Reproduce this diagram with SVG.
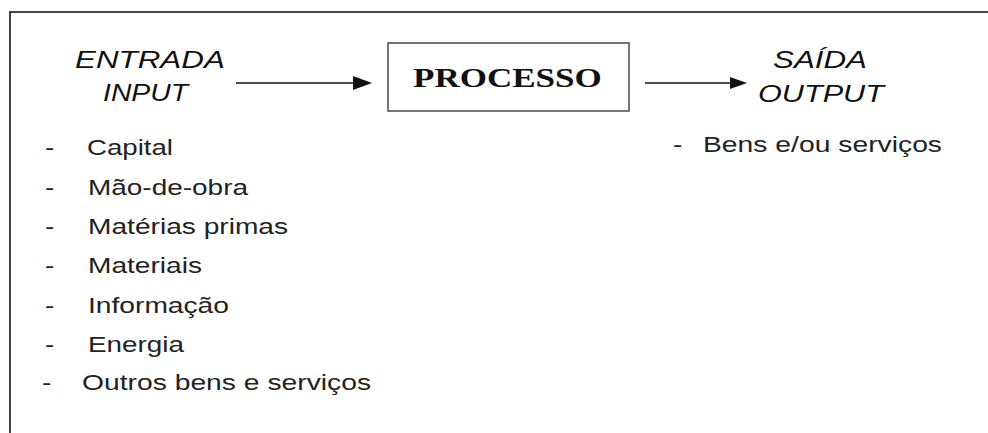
<svg xmlns="http://www.w3.org/2000/svg" width="988" height="433" viewBox="0 0 988 433">
<style>
.frame{stroke:#444;stroke-width:2;fill:none}
.lbl{font-family:"Liberation Sans",Arial,sans-serif;font-size:23px;font-style:italic;fill:#111}
.proc{font-family:"Liberation Serif","Times New Roman",serif;font-size:28px;font-weight:bold;fill:#111}
.item{font-family:"Liberation Sans",Arial,sans-serif;font-size:22px;fill:#222}
.box{fill:#fff;stroke:#555;stroke-width:1.6}
.conn{stroke:#111;stroke-width:1.6;fill:none}
.head{fill:#111}
</style>
<rect width="988" height="433" fill="#fff"/>
<path class="frame" d="M10,433 V12 H988"/>
<g id="entrada">
<text class="lbl" transform="translate(75,68) scale(1.35,1)" textLength="111" lengthAdjust="spacingAndGlyphs">ENTRADA</text>
<text class="lbl" transform="translate(103,101) scale(1.35,1)" textLength="63" lengthAdjust="spacingAndGlyphs">INPUT</text>
</g>
<g id="processo">
<rect class="box" x="388" y="43" width="241" height="68"/>
<text class="proc" transform="translate(413,87) scale(1.25,1)" textLength="151" lengthAdjust="spacingAndGlyphs">PROCESSO</text>
</g>
<g id="saida">
<text class="lbl" transform="translate(773,68) scale(1.35,1)" textLength="69.6" lengthAdjust="spacingAndGlyphs">SAÍDA</text>
<text class="lbl" transform="translate(758,102) scale(1.35,1)" textLength="93.3" lengthAdjust="spacingAndGlyphs">OUTPUT</text>
</g>
<g id="connectors">
<line class="conn" x1="236" y1="83" x2="355" y2="83"/>
<polygon class="head" points="353,76 372,83 353,90"/>
<line class="conn" x1="645" y1="83" x2="732" y2="83"/>
<polygon class="head" points="730,77 747,83 730,89"/>
</g>
<g id="inputs">
<text class="item" transform="translate(45,155) scale(1.27,1)">-</text><text class="item" transform="translate(87,155) scale(1.27,1)" textLength="67.7" lengthAdjust="spacingAndGlyphs">Capital</text>
<text class="item" transform="translate(45,195) scale(1.27,1)">-</text><text class="item" transform="translate(88,195) scale(1.27,1)" textLength="126" lengthAdjust="spacingAndGlyphs">Mão-de-obra</text>
<text class="item" transform="translate(45,234) scale(1.27,1)">-</text><text class="item" transform="translate(88,234) scale(1.27,1)" textLength="157.5" lengthAdjust="spacingAndGlyphs">Matérias primas</text>
<text class="item" transform="translate(45,273) scale(1.27,1)">-</text><text class="item" transform="translate(88,273) scale(1.27,1)" textLength="89.8" lengthAdjust="spacingAndGlyphs">Materiais</text>
<text class="item" transform="translate(45,313) scale(1.27,1)">-</text><text class="item" transform="translate(88,313) scale(1.27,1)" textLength="111" lengthAdjust="spacingAndGlyphs">Informação</text>
<text class="item" transform="translate(45,352) scale(1.27,1)">-</text><text class="item" transform="translate(88,352) scale(1.27,1)" textLength="75.6" lengthAdjust="spacingAndGlyphs">Energia</text>
<text class="item" transform="translate(42,390) scale(1.27,1)">-</text><text class="item" transform="translate(82,390) scale(1.27,1)" textLength="227.6" lengthAdjust="spacingAndGlyphs">Outros bens e serviços</text>
</g>
<g id="outputs">
<text class="item" transform="translate(673,152) scale(1.27,1)">-</text><text class="item" transform="translate(703,152) scale(1.27,1)" textLength="188.2" lengthAdjust="spacingAndGlyphs">Bens e/ou serviços</text>
</g>
</svg>
